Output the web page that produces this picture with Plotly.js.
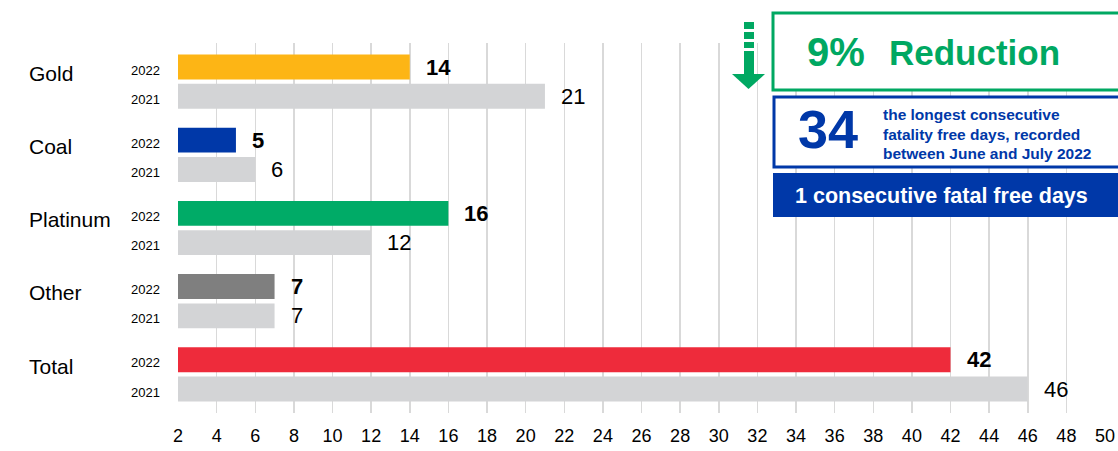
<!DOCTYPE html>
<html>
<head>
<meta charset="utf-8">
<script src="https://cdn.plot.ly/plotly-3.0.1.min.js"></script>
<style>html,body{margin:0;padding:0;background:#fff;}#chart{width:1118px;height:451px;}</style>
</head>
<body>
<div id="chart"></div>
<script>
// ---- data ----
const categories = ["Gold", "Coal", "Platinum", "Other", "Total"];
const years = ["2022", "2021"];
const values2022 = [14, 5, 16, 7, 42];
const values2021 = [21, 6, 12, 7, 46];
const colors2022 = ["#fdb515", "#0038a8", "#00ab67", "#7f7f7f", "#ee2b3b"];
const color2021 = "#d3d4d6";
const reductionPct = "9%";
const reductionLabel = "Reduction";
const longestDays = "34";
const longestText = ["the longest consecutive", "fatality free days, recorded", "between June and July 2022"];
const consecutiveText = "1 consecutive fatal free days";

// ---- layout helpers ----
const W = 1118, H = 451;
const L = 178, R = 1105, T = 43, B = 413;
const px = X => (X - L) / (R - L);
const py = Y => (B - Y) / (B - T);
const green = "#00a862", blue = "#0038a8";
const FONT = "Liberation Sans, Arial, sans-serif";

const pos22 = categories.map((c, i) => i * 2.5);
const pos21 = categories.map((c, i) => i * 2.5 + 1);

const traces = [
  {type: "bar", orientation: "h", x: values2022, y: pos22, width: 0.85,
   marker: {color: colors2022}, hoverinfo: "x", showlegend: false},
  {type: "bar", orientation: "h", x: values2021, y: pos21, width: 0.85,
   marker: {color: color2021}, hoverinfo: "x", showlegend: false}
];

const annotations = [];
values2022.forEach((v, i) => annotations.push({x: v, y: pos22[i], xref: "x", yref: "y",
  text: "<b>" + v + "</b>", showarrow: false, xanchor: "left", xshift: 14,
  font: {family: FONT, size: 22, color: "#000"}}));
values2021.forEach((v, i) => annotations.push({x: v, y: pos21[i], xref: "x", yref: "y",
  text: String(v), showarrow: false, xanchor: "left", xshift: 14,
  font: {family: FONT, size: 22, color: "#000"}}));
categories.forEach((c, i) => annotations.push({x: px(27), y: pos22[i] + 0.22, xref: "paper", yref: "y",
  text: c, showarrow: false, xanchor: "left", yanchor: "middle",
  font: {family: FONT, size: 21, color: "#000"}}));
// year labels
pos22.forEach(p => annotations.push({x: px(162), y: p, xref: "paper", yref: "y", yshift: -3,
  text: years[0], showarrow: false, xanchor: "right", yanchor: "middle",
  font: {family: FONT, size: 13, color: "#000"}}));
pos21.forEach(p => annotations.push({x: px(162), y: p, xref: "paper", yref: "y", yshift: -3,
  text: years[1], showarrow: false, xanchor: "right", yanchor: "middle",
  font: {family: FONT, size: 13, color: "#000"}}));

// right panel texts
annotations.push({x: px(805), y: py(52), xref: "paper", yref: "paper", text: "<b>" + reductionPct + "</b>",
  showarrow: false, xanchor: "left", yanchor: "middle", font: {family: FONT, size: 40, color: green}});
annotations.push({x: px(887), y: py(53), xref: "paper", yref: "paper", text: "<b>" + reductionLabel + "</b>",
  showarrow: false, xanchor: "left", yanchor: "middle", font: {family: FONT, size: 35, color: green}});
annotations.push({x: px(796), y: py(129), xref: "paper", yref: "paper", text: "<b>" + longestDays + "</b>",
  showarrow: false, xanchor: "left", yanchor: "middle", font: {family: FONT, size: 54, color: blue}});
const lineYs = [114, 134, 153];
longestText.forEach((t, i) => annotations.push({x: px(881), y: py(lineYs[i]), xref: "paper", yref: "paper",
  text: "<b>" + t + "</b>", showarrow: false, xanchor: "left", yanchor: "middle",
  font: {family: FONT, size: 15.5, color: blue}}));
annotations.push({x: px(793), y: py(196), xref: "paper", yref: "paper", text: "<b>" + consecutiveText + "</b>",
  showarrow: false, xanchor: "left", yanchor: "middle", font: {family: FONT, size: 21.5, color: "#fff"}});

const rect = (x0, y0, x1, y1, opts) => Object.assign({type: "rect", xref: "paper", yref: "paper",
  x0: px(x0), x1: px(x1), y0: py(y1), y1: py(y0), layer: "above"}, opts);

const shapes = [
  rect(773, 13, 1130, 90, {line: {color: green, width: 3}, fillcolor: "#fff"}),
  rect(774, 97, 1130, 167, {line: {color: blue, width: 3}, fillcolor: "#fff"}),
  rect(773, 173, 1130, 217, {line: {width: 0}, fillcolor: blue}),
  rect(744, 22, 754, 29, {line: {width: 0}, fillcolor: green}),
  rect(744, 32, 754, 39, {line: {width: 0}, fillcolor: green}),
  rect(744, 42, 754, 48, {line: {width: 0}, fillcolor: green}),
  rect(744, 51, 754, 75, {line: {width: 0}, fillcolor: green}),
  {type: "path", xref: "paper", yref: "paper", layer: "above",
   path: `M ${px(732)} ${py(74)} L ${px(765)} ${py(74)} L ${px(748.5)} ${py(89)} Z`,
   fillcolor: green, line: {width: 0}}
];

const layout = {
  width: W, height: H,
  margin: {l: L, r: W - R, t: T, b: H - B, pad: 0},
  paper_bgcolor: "#fff", plot_bgcolor: "#fff",
  barmode: "overlay",
  font: {family: FONT, color: "#000"},
  xaxis: {range: [2, 50], tick0: 2, dtick: 2, showgrid: true, gridcolor: "#d9d9d9", gridwidth: 1.5,
    zeroline: false, showline: false, ticks: "", ticklabelstandoff: 10,
    tickfont: {family: FONT, size: 18, color: "#000"}, fixedrange: true},
  yaxis: {range: [11.82, -0.82], showticklabels: false,
    showgrid: false, zeroline: false, showline: false, ticks: "", fixedrange: true},
  annotations: annotations,
  shapes: shapes
};

Plotly.newPlot("chart", traces, layout, {displayModeBar: false, staticPlot: true});
</script>
</body>
</html>
